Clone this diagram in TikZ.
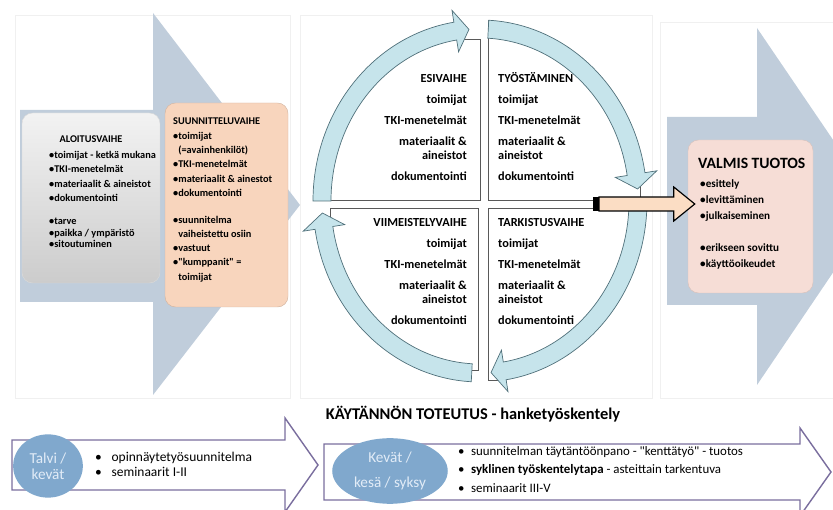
\documentclass[tikz,border=0pt]{standalone}
\usepackage{fontspec}
\setmainfont{Carlito}[Ligatures=TeXOff]
\usetikzlibrary{positioning,calc,fit,shapes.geometric}

\definecolor{steel}{RGB}{192,205,219}
\definecolor{ringfill}{RGB}{198,228,235}
\definecolor{ringline}{RGB}{80,112,122}
\definecolor{peach}{RGB}{248,213,189}
\definecolor{rose}{RGB}{246,221,214}
\definecolor{orfill}{RGB}{251,221,196}
\definecolor{seasonblue}{RGB}{128,168,205}
\definecolor{seasontext}{RGB}{226,236,247}
\definecolor{timeline}{RGB}{122,110,158}

\tikzset{
    %Define style for the big background arrows
    bigarr/.style={
           fill=steel,
           draw=none},
    panel/.style={
           draw=black!6,
           line width=0.4pt},
    %Define style for boxes
    box/.style={
           rectangle,
           rounded corners=9pt,
           inner sep=0pt},
    quad/.style={
           rectangle,
           draw=black!65,
           line width=0.7pt,
           inner sep=0pt},
    ring/.style={
           fill=ringfill,
           draw=ringline,
           line width=0.6pt},
    phase/.style={
           font=\fontsize{8.8}{12.2}\selectfont\bfseries,
           inner sep=0pt,
           align=left},
    quadtxt/.style={
           font=\fontsize{10.5}{12}\selectfont\bfseries,
           inner sep=0pt},
    season/.style={
           ellipse,
           fill=seasonblue,
           text=seasontext,
           inner sep=0pt,
           align=center},
    % Define arrow styles
    orarr/.style={
           fill=orfill,
           draw=black,
           line width=1pt},
    tarr/.style={
           draw=timeline,
           line width=1.2pt,
           fill=white},
    bullets/.style={
           font=\fontsize{11.5}{12.8}\selectfont,
           inner sep=0pt,
           align=left}
}

\begin{document}
\begin{tikzpicture}[x=0.03cm,y=0.03cm]
  \useasboundingbox (0,0) rectangle (833,510);
  \clip (0,0) rectangle (833,510);
  \draw[panel] (15,112) rectangle (290,495);
  \draw[panel] (300,112) rectangle (652,495);
  \draw[panel] (660,112) rectangle (840,488);

  % big arrows
  \fill[bigarr] (20,400) -- (153,400) -- (153,497) -- (300,305) -- (153,115) -- (153,208) -- (20,208) -- cycle;
  \fill[bigarr] (667,393) -- (757,393) -- (757,482) -- (878,304) -- (757,125) -- (757,205) -- (667,205) -- cycle;

  % phase boxes
  \node[box, fit={(22,227) (160,397)}, top color=black!5, bottom color=black!20, draw=black!15] (aloitus) {};
  \node[box, fit={(165,203) (288,407)}, fill=peach, draw=peach!85!black] (suunnittelu) {};
  \node[box, fit={(688,217) (813,370)}, fill=rose, draw=rose!88!black] (valmis) {};

  \node[phase, anchor=north] (aloitustitle) at (91,374) {ALOITUSVAIHE};
  \node[phase, anchor=north west] (aloituslist) at (49,359)
    {•toimijat - ketkä mukana\\•TKI-menetelmät\\•materiaalit \& aineistot\\•dokumentointi\\[7.4pt]•tarve\\[-2.2pt]•paikka / ympäristö\\[-2.2pt]•sitoutuminen};
  \node[phase, anchor=north west] (suunnittelutxt) at (173,392)
    {SUUNNITTELUVAIHE\\•toimijat\\\phantom{•}(=avainhenkilöt)\\•TKI-menetelmät\\•materiaalit \& ainestot\\•dokumentointi\\[10.5pt]•suunnitelma\\\phantom{•}vaiheistettu osiin\\•vastuut\\•"kumppanit" =\\\phantom{•}toimijat};
  \node[anchor=north west, inner sep=0pt, font=\fontsize{13.4}{14}\selectfont\bfseries] (valmistitle) at (698,352) {VALMIS TUOTOS};
  \node[anchor=north west, inner sep=0pt, font=\fontsize{9.5}{14}\selectfont\bfseries, align=left] (valmislist) at (700,331)
    {•esittely\\•levittäminen\\•julkaiseminen\\[13pt]•erikseen sovittu\\•käyttöoikeudet};

  % cycle
  \coordinate (ctr) at (480,309);
  \begin{scope}
    \clip (ctr) ellipse [x radius=167, y radius=181];
    \node[quad, fit={(330,310) (480,471)}] (esivaihe) {};
    \node[quad, fit={(488,310) (640,500)}] (tyostaminen) {};
    \node[quad, fit={(330,140) (478,302)}] (viimeistely) {};
    \node[quad, fit={(488,130) (640,302)}] (tarkistus) {};
  \end{scope}
  \node[quadtxt, anchor=north east, align=right] (esitxt) at (467,436)
    {ESIVAIHE\\[5.9pt]toimijat\\[5.9pt]TKI-menetelmät\\[5.9pt]materiaalit \&\\aineistot\\[5.9pt]dokumentointi};
  \node[quadtxt, anchor=north west, align=left] (tyotxt) at (498,438)
    {TYÖSTÄMINEN\\[5.9pt]toimijat\\[5.9pt]TKI-menetelmät\\[5.9pt]materiaalit \&\\aineistot\\[5.9pt]dokumentointi};
  \node[quadtxt, anchor=north east, align=right] (viimtxt) at (467,292)
    {VIIMEISTELYVAIHE\\[5.9pt]toimijat\\[5.9pt]TKI-menetelmät\\[5.9pt]materiaalit \&\\aineistot\\[5.9pt]dokumentointi};
  \node[quadtxt, anchor=north west, align=left] (tarktxt) at (498,292)
    {TARKISTUSVAIHE\\[5.9pt]toimijat\\[5.9pt]TKI-menetelmät\\[5.9pt]materiaalit \&\\aineistot\\[5.9pt]dokumentointi};

  \path[ring] ($(ctr)+(180:167 and 181)$) arc[start angle=180, end angle=99, x radius=167, y radius=181]
    -- ($(ctr)+(99:179 and 193)$) -- ($(ctr)+(94:158 and 172)$) -- ($(ctr)+(99:137 and 151)$)
    -- ($(ctr)+(99:149 and 163)$) arc[start angle=99, end angle=180, x radius=149, y radius=163] -- cycle;
  \path[ring] ($(ctr)+(87:167 and 181)$) arc[start angle=87, end angle=9, x radius=167, y radius=181]
    -- ($(ctr)+(9:179 and 193)$) -- ($(ctr)+(4:158 and 172)$) -- ($(ctr)+(9:137 and 151)$)
    -- ($(ctr)+(9:149 and 163)$) arc[start angle=9, end angle=87, x radius=149, y radius=163] -- cycle;
  \path[ring] ($(ctr)+(-3:167 and 181)$) arc[start angle=-3, end angle=-81, x radius=167, y radius=181]
    -- ($(ctr)+(-81:179 and 193)$) -- ($(ctr)+(-86:158 and 172)$) -- ($(ctr)+(-81:137 and 151)$)
    -- ($(ctr)+(-81:149 and 163)$) arc[start angle=-81, end angle=-3, x radius=149, y radius=163] -- cycle;
  \path[ring] ($(ctr)+(-93:167 and 181)$) arc[start angle=-93, end angle=-171, x radius=167, y radius=181]
    -- ($(ctr)+(-171:179 and 193)$) -- ($(ctr)+(-176:158 and 172)$) -- ($(ctr)+(-171:137 and 151)$)
    -- ($(ctr)+(-171:149 and 163)$) arc[start angle=-171, end angle=-93, x radius=149, y radius=163] -- cycle;

  % arrow from cycle to product
  \coordinate (orstart) at (593,306);
  \coordinate (ortip) at ($(valmis.west |- orstart)+(7,0)$);
  \draw[orarr] ($(orstart)+(6,7)$) -- ($(ortip)+(-21,7)$) -- ($(ortip)+(-21,17)$) -- (ortip)
    -- ($(ortip)+(-21,-17)$) -- ($(ortip)+(-21,-7)$) -- ($(orstart)+(6,-7)$) -- cycle;
  \fill[black] ($(orstart)+(0,-7)$) rectangle ($(orstart)+(6,7)$);

  % practical implementation
  \node[font=\fontsize{14}{16}\selectfont\bfseries, inner sep=0pt] (toteutus) at (473,96) {KÄYTÄNNÖN TOTEUTUS - hanketyöskentely};
  \draw[tarr] (12,70) -- (285,70) -- (285,92) -- (318,45) -- (285,-2) -- (285,20) -- (12,20) -- cycle;
  \draw[tarr] (324,66) -- (800,66) -- (800,82) -- (831,38) -- (800,-6) -- (800,10) -- (324,10) -- cycle;
  \node[season, minimum width=59.5pt, minimum height=54pt, font=\fontsize{13}{14}\selectfont] (talvi) at (48,44) {Talvi /\\kevät};
  \node[season, minimum width=98.6pt, minimum height=56pt, font=\fontsize{13}{15}\selectfont] (kevat) at (390,39) {Kevät /\\[6pt]kesä / syksy};
  \node[bullets, anchor=north west] (talvilist) at (95,58)
    {\makebox[14pt][l]{•}opinnäytetyösuunnitelma\\\makebox[14pt][l]{•}seminaarit I-II};
  \node[bullets, anchor=north west, font=\fontsize{11}{16}\selectfont] (kevatlist) at (458,64)
    {\makebox[11pt][l]{•}suunnitelman täytäntöönpano - "kenttätyö" - tuotos\\\makebox[11pt][l]{•}\textbf{syklinen työskentelytapa} - asteittain tarkentuva\\\makebox[11pt][l]{•}seminaarit III-V};
\end{tikzpicture}
\end{document}
